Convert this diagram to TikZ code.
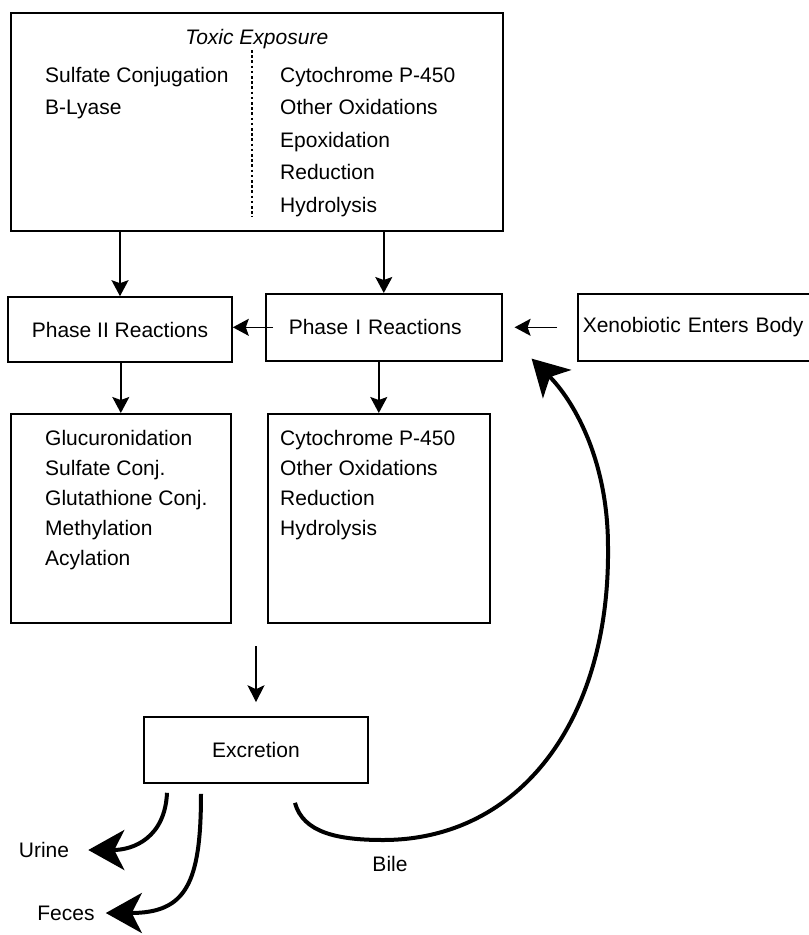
\documentclass[tikz,border=0pt]{standalone}
\usepackage{fontspec}
\setmainfont{Liberation Sans}
\usepackage{tikz}
\usetikzlibrary{arrows.meta}
\usetikzlibrary{calc}

\newcommand{\rxnlist}[1]{\begin{tabular}[t]{@{}l@{}}#1\end{tabular}}

\begin{document}
\begin{tikzpicture}[x=1pt, y=-1pt, font=\fontsize{21}{30}\selectfont, box/.style={draw, line width=1.6pt, inner sep=0pt}, lst/.style={inner sep=0pt, anchor=base west}, arr/.style={line width=1.6pt, -{Stealth[length=16pt, width=17pt, inset=3pt]}}, thinarr/.style={line width=1.2pt, -{Stealth[length=17pt, width=17pt, inset=4pt]}}, bigarr/.style={line width=4pt, -{Stealth[length=36pt, width=40pt, inset=10pt]}}]
  \useasboundingbox (0,0) rectangle (809,935);
  \node[box, anchor=north west, minimum width=492, minimum height=218] (toxic) at (10,12) {};
  \node[inner sep=0pt, anchor=base, font=\fontsize{21}{30}\selectfont\itshape] (title) at ([yshift=-32]toxic.north) {Toxic Exposure};
  \node[lst, font=\fontsize{21}{32.5}\selectfont] (conjtop) at ([xshift=35, yshift=-70]toxic.north west) {\rxnlist{Sulfate Conjugation\\B-Lyase}};
  \node[lst, font=\fontsize{21}{32.5}\selectfont] (oxidtop) at ([xshift=270, yshift=-70]toxic.north west) {\rxnlist{Cytochrome P-450\\Other Oxidations\\Epoxidation\\Reduction\\Hydrolysis}};
  \draw[line width=2.8pt, dash pattern=on 2.6pt off 2.6pt] ([xshift=242, yshift=-38]toxic.north west) -- ([xshift=242, yshift=-205]toxic.north west);

  \node[box, minimum width=224, minimum height=65] (phaseII) at (120,329.5) {Phase II Reactions};
  \node[box, anchor=north west, align=left, text width=190pt, inner xsep=23pt, minimum height=67] (phaseI) at (265,293) {Phase I Reactions};
  \node[box, anchor=north west, align=left, text width=240pt, inner xsep=5pt, minimum height=67] (xeno) at (577,293) {Xenobiotic Enters Body};

  \draw[arr] (phaseII.north |- toxic.south) -- (phaseII.north);
  \draw[arr] (phaseI.north |- toxic.south) -- (phaseI.north);
  \draw[arr] ([xshift=8]phaseI.west) -- (phaseI.west -| phaseII.east);
  \draw[arr] ([xshift=-20]xeno.west) -- ([xshift=12]phaseI.east);

  \node[box, anchor=north west, minimum width=220, minimum height=209] (conj) at (10,413) {};
  \node[box, anchor=north west, minimum width=222, minimum height=209] (oxid) at (267,413) {};
  \node[lst] (conjlist) at ([xshift=35, yshift=-32]conj.north west) {\rxnlist{Glucuronidation\\Sulfate Conj.\\Glutathione Conj.\\Methylation\\Acylation}};
  \node[lst] (oxidlist) at ([xshift=13, yshift=-32]oxid.north west) {\rxnlist{Cytochrome P-450\\Other Oxidations\\Reduction\\Hydrolysis}};
  \draw[arr] (phaseII.south -| conj.north) -- (conj.north);
  \draw[arr] (phaseI.south -| oxid.north) -- (oxid.north);

  \node[box, minimum width=224, minimum height=66] (excr) at (256,750) {Excretion};
  \coordinate (excin) at ([yshift=70]excr.north);
  \draw[thinarr] (excin) -- ([yshift=14]excr.north);

  \node[inner sep=0pt] (urine) at (44,850) {Urine};
  \node[inner sep=0pt] (feces) at (66,913) {Feces};
  \node[inner sep=0pt] (bile) at (390,864) {Bile};
  \draw[bigarr] ([xshift=-89, yshift=-9]excr.south) .. controls +(-2,45) and +(45,0) .. ([xshift=19]urine.east);
  \draw[bigarr] ([xshift=-55, yshift=-10]excr.south) .. controls +(0,90) and +(80,0) .. ([xshift=11]feces.east);
  \draw[bigarr] ([xshift=39, yshift=-19]excr.south) .. controls +(8,30) and +(-45,0) .. (383,840) .. controls +(137,0) and +(2,173) .. (608,547) .. controls +(0,-90) and +(40,40) .. ([xshift=29, yshift=3]phaseI.south east);
\end{tikzpicture}
\end{document}
